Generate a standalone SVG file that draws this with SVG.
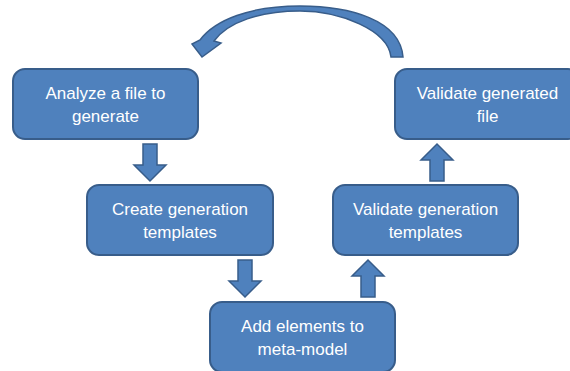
<svg xmlns="http://www.w3.org/2000/svg" xmlns:xlink="http://www.w3.org/1999/xlink" width="570" height="371" viewBox="0 0 570 371">
  <style>
    .box { fill: #4F81BD; stroke: #385D8A; stroke-width: 2; }
    .arrow { fill: #4F81BD; stroke: #385D8A; stroke-width: 1.5; stroke-linejoin: miter; }
    .label { fill: #FFFFFF; font-family: "Liberation Sans", Arial, sans-serif; font-size: 17px; text-anchor: middle; }
  </style>
  <defs>
    <!-- block arrow pointing down, origin at top centre -->
    <path id="blockArrow" d="M -7 0 L 7 0 L 7 21 L 16 21 L 0 37 L -16 21 L -7 21 Z"/>
  </defs>
  <rect width="570" height="371" fill="#FFFFFF"/>

  <g id="connectors">
    <use xlink:href="#blockArrow" href="#blockArrow" class="arrow" transform="translate(150,144)"/>
    <use xlink:href="#blockArrow" href="#blockArrow" class="arrow" transform="translate(245,260)"/>
    <use xlink:href="#blockArrow" href="#blockArrow" class="arrow" transform="translate(368,297) scale(1,-1)"/>
    <use xlink:href="#blockArrow" href="#blockArrow" class="arrow" transform="translate(437,181) scale(1,-1)"/>
    <!-- curved return arrow from the last step back to the first -->
    <path class="arrow" d="M 403 57 C 400 20, 350 6, 300 6 C 250 6, 215 20, 200 40 L 192 44 L 202 57 L 221 43 L 214 41 C 228 22, 260 11, 300 11 C 340 11, 388 30, 391 57 Z"/>
  </g>

  <g id="analyze">
    <rect class="box" x="13" y="69" width="185" height="70" rx="12"/>
    <text class="label" x="105.5" y="99">Analyze a file to</text>
    <text class="label" x="105.5" y="122">generate</text>
  </g>

  <g id="create-templates">
    <rect class="box" x="87" y="185" width="186" height="70" rx="12"/>
    <text class="label" x="180" y="215">Create generation</text>
    <text class="label" x="180" y="238">templates</text>
  </g>

  <g id="add-elements">
    <rect class="box" x="210" y="302" width="185" height="70" rx="12"/>
    <text class="label" x="302.5" y="332">Add elements to</text>
    <text class="label" x="302.5" y="355">meta-model</text>
  </g>

  <g id="validate-templates">
    <rect class="box" x="333" y="185" width="185" height="70" rx="12"/>
    <text class="label" x="425.5" y="215">Validate generation</text>
    <text class="label" x="425.5" y="238">templates</text>
  </g>

  <g id="validate-file">
    <rect class="box" x="395" y="69" width="185" height="70" rx="12"/>
    <text class="label" x="487.5" y="99">Validate generated</text>
    <text class="label" x="487.5" y="122">file</text>
  </g>
</svg>
